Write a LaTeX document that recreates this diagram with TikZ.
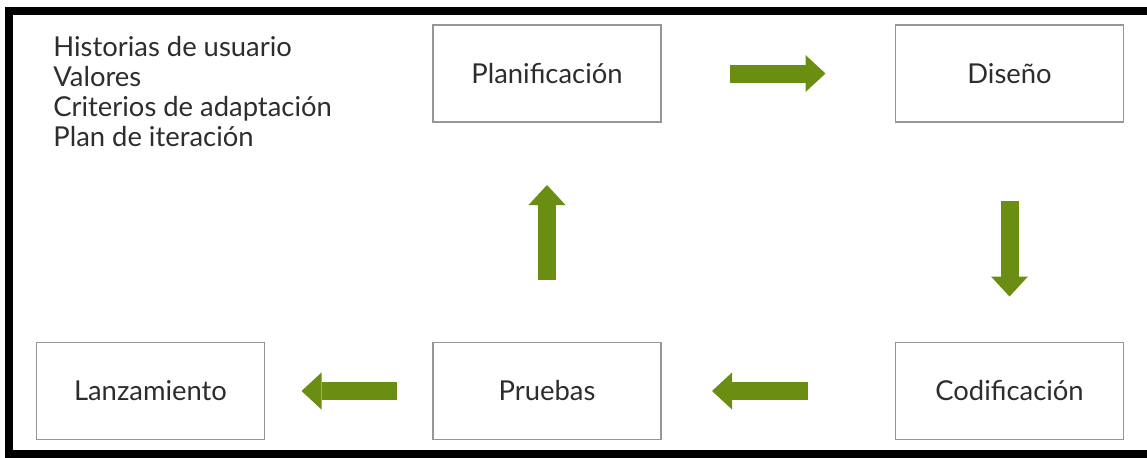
\documentclass[tikz,border=0pt]{standalone}
\usepackage{fontspec}
\setmainfont{Lato}
\usepackage{xcolor}
\usetikzlibrary{arrows.meta,positioning}

\definecolor{arrgreen}{RGB}{106,142,18}
\definecolor{boxgray}{RGB}{150,150,150}
\definecolor{txtgray}{RGB}{45,45,45}

\begin{document}
\begin{tikzpicture}[x=0.5pt, y=-0.5pt,
    box/.style={rectangle, draw=boxgray, line width=0.7pt, minimum width=114pt,
                minimum height=48.5pt, inner sep=0pt, outer sep=0pt,
                font=\fontsize{13.7}{15}\selectfont, text=txtgray},
    blockarr/.style={draw=arrgreen, line width=9pt,
                -{Triangle[width=18.5pt, length=10pt, line width=0pt, fill=arrgreen]}},
    lbl/.style={align=left, inner sep=0pt, font=\fontsize{13.7}{15}\selectfont, text=txtgray},
  ]
  \useasboundingbox (0,0) rectangle (1147,457);

  % Frame
  \draw[line width=4pt] (1170,11) -- (9,11) -- (9,453.5) -- (1170,453.5);

  % Notes
  \node[lbl, anchor=north west] (notes) at (53,36) {Historias de usuario\\Valores\\Criterios de adaptación\\Plan de iteración};

  % Top row
  \node[box] (plan) at (547,73.5) {Planificación};
  \node[box] (dis) at (1009.5,73.5) {Diseño};

  % Bottom row
  \node[box] (lanz) at (150.5,391) {Lanzamiento};
  \node[box] (prue) at (547,391) {Pruebas};
  \node[box] (cod) at (1009.5,391) {Codificación};

  % Cycle
  \draw[blockarr, shorten <=34.5pt, shorten >=35pt] (plan) -- (dis);
  \draw[blockarr, shorten <=39.5pt, shorten >=23pt] (dis) -- (cod);
  \draw[blockarr, shorten <=44pt, shorten >=25.5pt] (cod) -- (prue);
  \draw[blockarr, shorten <=18pt, shorten >=18.5pt] (prue) -- (lanz);
  \draw[blockarr, shorten <=31.5pt, shorten >=31.5pt] (prue) -- (plan);

\end{tikzpicture}
\end{document}
